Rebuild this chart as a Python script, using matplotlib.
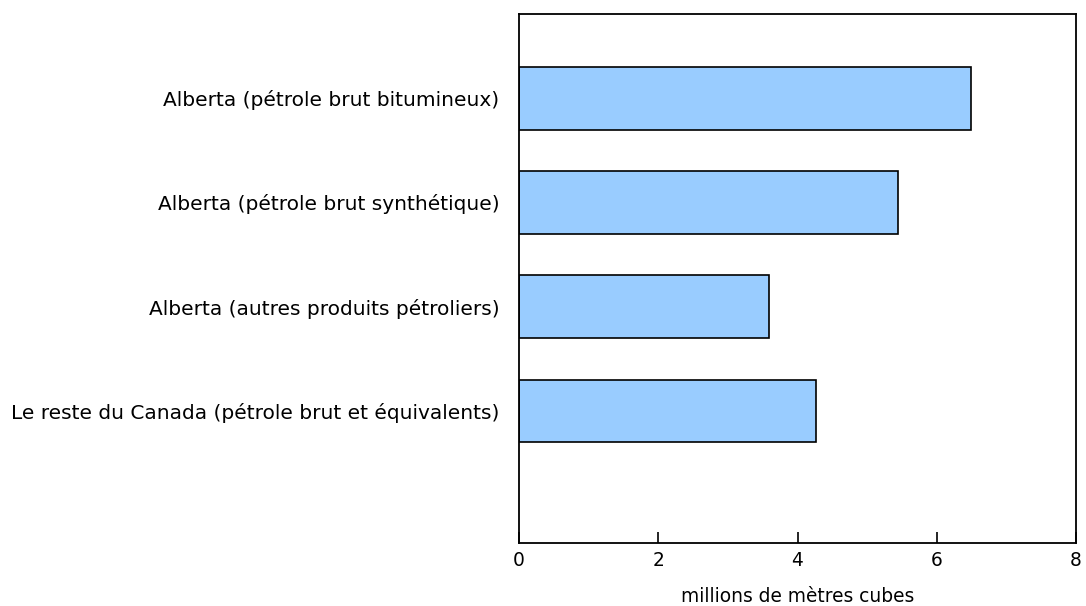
import matplotlib
matplotlib.use("Agg")
import matplotlib.pyplot as plt

categories = [
    "Alberta (pétrole brut bitumineux)",
    "Alberta (pétrole brut synthétique)",
    "Alberta (autres produits pétroliers)",
    "Le reste du Canada (pétrole brut et équivalents)",
]
values = [6.49, 5.44, 3.59, 4.27]
x_ticks = [0, 2, 4, 6, 8]
x_label = "millions de mètres cubes"

plt.rcParams['font.family'] = ['DejaVu Sans']

fig = plt.figure(figsize=(10.86, 6.06), dpi=100)
ax = fig.add_axes([519 / 1086, 1 - 543 / 606, (1076 - 519) / 1086, (543 - 14) / 606])

pos = list(range(len(categories)))
ax.barh(pos, values, height=0.6, color="#99ccff", edgecolor="black", linewidth=1.2)

ax.set_xlim(0, 8)
ax.set_ylim(4.27, -0.81)
ax.set_xticks(x_ticks)
ax.set_xticklabels([str(t) for t in x_ticks], fontsize=13.4)
ax.set_yticks(pos)
ax.set_yticklabels(categories, fontsize=14.5)
ax.tick_params(axis="y", length=0, pad=14)
ax.tick_params(axis="x", direction="in", length=8, width=1.2, pad=6)
ax.set_xlabel(x_label, fontsize=13.4, labelpad=12)

for s in ax.spines.values():
    s.set_linewidth(1.3)

fig.savefig("out.png", dpi=100)
